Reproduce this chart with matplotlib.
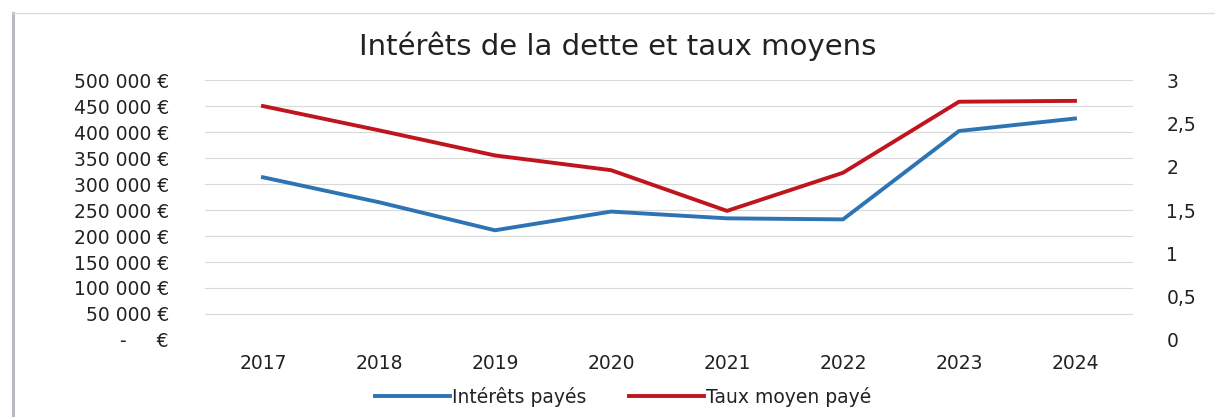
import matplotlib
matplotlib.use('Agg')
import matplotlib.pyplot as plt
from matplotlib.lines import Line2D

plt.rcParams['font.family'] = ['DejaVu Sans']

# Données
annees = ['2017', '2018', '2019', '2020', '2021', '2022', '2023', '2024']
interets = [313000, 265000, 211000, 247000, 234000, 232000, 402000, 426000]
taux = [2.70, 2.42, 2.13, 1.96, 1.49, 1.93, 2.75, 2.76]
yticks_gauche = [0, 50000, 100000, 150000, 200000, 250000, 300000, 350000, 400000, 450000, 500000]
yticks_droite = [0, 0.5, 1, 1.5, 2, 2.5, 3]

bleu = '#2e74b5'
rouge = '#c0141f'
texte = '#222222'

def euro(v):
    if v == 0:
        return '-     €'
    return f'{int(v):,} €'.replace(',', ' ')

fig = plt.figure(figsize=(12.15, 4.17), dpi=100)
ax = fig.add_axes([0.1687, 0.1847, 0.7638, 0.6233])
ax2 = ax.twinx()

x = range(len(annees))
l1, = ax.plot(x, interets, color=bleu, lw=2.8, label='Intérêts payés')
l2, = ax2.plot(x, taux, color=rouge, lw=2.8, label='Taux moyen payé')

ax.set_xlim(-0.5, len(annees) - 0.5)
ax.set_ylim(0, 500000)
ax2.set_ylim(0, 3)
ax.set_xticks(list(x))
ax.set_xticklabels(annees)
ax.set_yticks(yticks_gauche)
ax.set_yticklabels([euro(v) for v in yticks_gauche])
ax2.set_yticks(yticks_droite)
ax2.set_yticklabels([f'{v:g}'.replace('.', ',') for v in yticks_droite])

ax.grid(axis='y', color='#d9d9d9', lw=0.8)
ax.set_axisbelow(True)
for a in (ax, ax2):
    for s in a.spines.values():
        s.set_visible(False)
    a.tick_params(length=0, labelsize=13.5, colors=texte)
ax.tick_params(axis='y', pad=26)
ax.tick_params(axis='x', pad=10)
ax2.tick_params(axis='y', pad=24)

fig.text(0.508, 0.89, 'Intérêts de la dette et taux moyens', ha='center', va='center',
         fontsize=21, color=texte)

fig.legend(handles=[l1, l2], loc='center', bbox_to_anchor=(0.513, 0.048), ncol=2,
           frameon=False, fontsize=13.5, handlelength=4.0, handletextpad=0.1,
           columnspacing=2.3, labelcolor=texte)

# cadre du graphique (bord gauche et haut)
fig.add_artist(Line2D([0.011, 0.011], [0.0, 0.97], transform=fig.transFigure,
                      color='#b8b8c0', lw=2.2))
fig.add_artist(Line2D([0.011, 1.0], [0.97, 0.97], transform=fig.transFigure,
                      color='#dcdcdc', lw=1.0))

fig.savefig('out.png', dpi=100)
